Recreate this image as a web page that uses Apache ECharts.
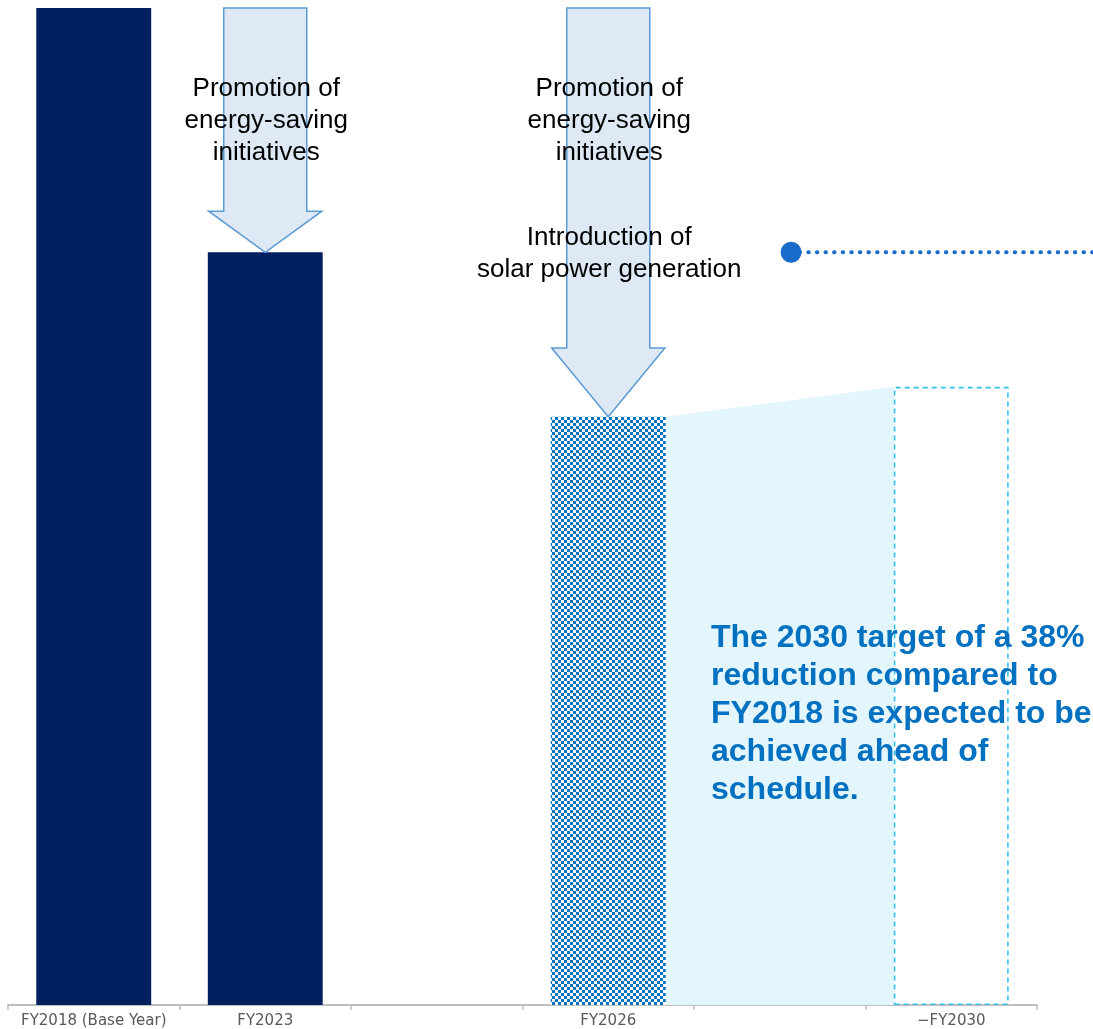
<!DOCTYPE html>
<html>
<head>
<meta charset="utf-8">
<script src="https://cdn.jsdelivr.net/npm/echarts@6/dist/echarts.min.js"></script>
<style>
  html, body { margin: 0; padding: 0; background: #fff; }
  #chart { width: 1093px; height: 1029px; }
</style>
</head>
<body>
<div id="chart"></div>
<script>
// Fiscal years along the axis (blank slots keep the spacing between groups)
const categories = ['FY2018 (Base Year)', 'FY2023', '', 'FY2026', '', '\u2212FY2030'];
// Emissions index, FY2018 = 100
const emissions = [100, 75.5, null, 59, null, 62];
// Reduction arrows: [category index, from value, to value]
const arrows = [[1, 100, 75.5], [3, 100, 59]];
// Measures written inside each arrow
const arrowNotes = [
  ['Promotion of\nenergy-saving\ninitiatives'],
  ['Promotion of\nenergy-saving\ninitiatives', 'Introduction of\nsolar power generation']
];
// Bridge from the FY2026 forecast to the FY2030 target: [from cat, from value, to cat, to value]
const bridge = [[3, 59, 5, 62]];
// Reference level marker (FY2023 level) on the continuous helper axis: [x, value]
const levelMarker = [[4.566, 75.5]];
const targetNote = 'The 2030 target of a 38%\nreduction compared to\nFY2018 is expected to be\nachieved ahead of\nschedule.';

// Checkered fill for the FY2026 forecast bar
const tile = document.createElement('canvas');
tile.width = 6; tile.height = 6;
const tctx = tile.getContext('2d');
tctx.fillStyle = '#ffffff'; tctx.fillRect(0, 0, 6, 6);
tctx.fillStyle = '#0070c0';
tctx.fillRect(0, 0, 3, 3); tctx.fillRect(3, 3, 3, 3);

const BAR_RATIO = 0.67;
const navy = '#002060';

const barData = emissions.map((v, i) => {
  if (v == null) return null;
  if (i === 3) return { value: v, itemStyle: { color: { image: tile, repeat: 'repeat' } } };
  if (i === 5) return { value: v, itemStyle: { color: 'rgba(0,0,0,0)', borderColor: '#33c0ee', borderWidth: 1.6, borderType: [5, 4] } };
  return { value: v, itemStyle: { color: navy } };
});

const chart = echarts.init(document.getElementById('chart'), null, { renderer: 'canvas' });

chart.setOption({
  animation: false,
  backgroundColor: '#ffffff',
  grid: { left: 8, right: 56, top: 8, bottom: 24, containLabel: false },
  xAxis: [
    {
      type: 'category',
      data: categories,
      axisLine: { lineStyle: { color: '#bfbfbf', width: 2 } },
      axisTick: { show: true, length: 5, lineStyle: { color: '#bfbfbf', width: 1.5 } },
      axisLabel: { interval: 0, color: '#595959', fontSize: 15, margin: 9, fontFamily: '"DejaVu Sans", sans-serif' },
      splitLine: { show: false }
    },
    { type: 'value', min: 0, max: 6, show: false }
  ],
  yAxis: { type: 'value', min: 0, max: 100, show: false, splitLine: { show: false } },
  graphic: [
    {
      type: 'text', left: 711, top: 619, z: 100,
      style: {
        text: targetNote, fill: '#0070c0',
        font: 'bold 32px "Liberation Sans", Arial, sans-serif',
        lineHeight: 38
      }
    }
  ],
  series: [
    {
      type: 'custom',
      name: 'bridge',
      xAxisIndex: 0,
      z: 1,
      data: bridge,
      encode: { x: [0, 2], y: [1, 3] },
      renderItem(params, api) {
        const p0 = api.coord([api.value(0), api.value(1)]);
        const p1 = api.coord([api.value(2), api.value(3)]);
        const base = api.coord([api.value(0), 0])[1];
        const half = api.size([1, 0])[0] * BAR_RATIO / 2;
        return {
          type: 'polygon',
          shape: { points: [[p0[0] + half, p0[1]], [p1[0] - half, p1[1]], [p1[0] - half, base], [p0[0] + half, base]] },
          style: { fill: '#e3f5fd' }
        };
      }
    },
    {
      type: 'bar',
      name: 'emissions',
      xAxisIndex: 0,
      z: 2,
      barWidth: (BAR_RATIO * 100) + '%',
      data: barData
    },
    {
      type: 'custom',
      name: 'arrows',
      xAxisIndex: 0,
      z: 3,
      data: arrows,
      encode: { x: 0, y: [1, 2] },
      renderItem(params, api) {
        const idx = params.dataIndex;
        const top = api.coord([api.value(0), api.value(1)]);
        const tip = api.coord([api.value(0), api.value(2)]);
        const w = api.size([1, 0])[0];
        const shaftHalf = w * 0.242, headHalf = w * 0.33;
        const len = tip[1] - top[1];
        const yh = tip[1] - len * 0.168;
        const x = tip[0];
        const children = [{
          type: 'polygon',
          shape: { points: [[x - shaftHalf, top[1]], [x + shaftHalf, top[1]], [x + shaftHalf, yh], [x + headHalf, yh], [x, tip[1]], [x - headHalf, yh], [x - shaftHalf, yh]] },
          style: { fill: '#dfe9f5', stroke: '#5b9bd5', lineWidth: 1.5 }
        }];
        const offsets = [113, 246];
        arrowNotes[idx].forEach((t, k) => {
          children.push({
            type: 'text',
            z2: 10,
            style: {
              text: t, x: x + 1, y: top[1] + offsets[k],
              fill: '#000', fontSize: 26, fontFamily: '"Liberation Sans", Arial, sans-serif',
              lineHeight: 32, align: 'center', verticalAlign: 'middle'
            }
          });
        });
        return { type: 'group', children };
      }
    },
    {
      type: 'custom',
      name: 'level',
      xAxisIndex: 1,
      z: 5,
      clip: false,
      data: levelMarker,
      encode: { x: 0, y: 1 },
      renderItem(params, api) {
        const p = api.coord([api.value(0), api.value(1)]);
        const right = api.getWidth();
        return {
          type: 'group',
          children: [
            {
              type: 'line',
              shape: { x1: p[0], y1: p[1], x2: right + 4, y2: p[1] },
              style: { stroke: '#1a6ccc', lineWidth: 4, lineDash: [0.5, 8.1], lineCap: 'round' }
            },
            {
              type: 'circle',
              shape: { cx: p[0], cy: p[1], r: 10.5 },
              style: { fill: '#1a6ccc' }
            }
          ]
        };
      }
    }
  ]
});
</script>
</body>
</html>
